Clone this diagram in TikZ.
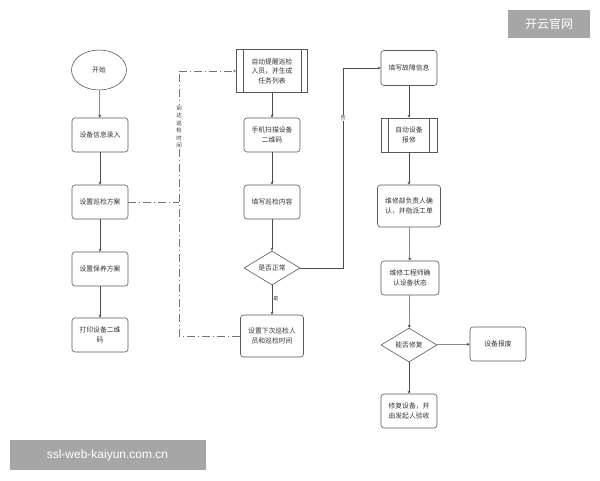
\documentclass[tikz,border=0pt]{standalone}
\usepackage{fontspec}
\setmainfont{Noto Sans CJK SC}
\newfontfamily\latinsans{Liberation Sans}
\XeTeXlinebreaklocale "zh"
\XeTeXlinebreakskip=0pt plus 1pt
\usetikzlibrary{shapes.geometric,arrows.meta}
\begin{document}
\begin{tikzpicture}[x=1pt,y=-1pt,
  every node/.style={font=\fontsize{6.8}{9.5}\selectfont, text=black!80, align=center, inner sep=1pt},
  proc/.style={draw=black!65, line width=0.6pt, rounded corners=3pt, minimum width=56pt, minimum height=34pt},
  subp/.style={draw=black!65, line width=0.6pt, minimum width=56pt, minimum height=34pt},
  dec/.style={draw=black!65, line width=0.6pt, diamond, aspect=1.65, minimum width=56pt, minimum height=34pt, inner sep=0pt},
  term/.style={draw=black!65, line width=0.6pt, ellipse, minimum width=55pt, minimum height=40pt},
  arr/.style={draw=black!70, line width=0.5pt, -{Stealth[length=3pt,width=3pt]}},
  dd/.style={draw=black!55, line width=0.6pt, dash pattern=on 8pt off 3pt on 1pt off 3pt},
  wm/.style={fill=black!35, text=white, inner sep=0pt}
]
\useasboundingbox (0,0) rectangle (600,480);
% column 1
\node[term] (start) at (99,70) {开始};
\node[proc] (c1) at (100,135) {设备信息录入};
\node[proc] (c2) at (100,202) {设置巡检方案};
\node[proc] (c3) at (100,269) {设置保养方案};
\node[proc] (c4) at (100,335) {打印设备二维\\码};
% column 2
\node[subp, minimum width=71pt, minimum height=43pt] (m1) at (272,71) {自动提醒巡检\\人员，并生成\\任务列表};
\draw[draw=black!65, line width=0.6pt] ([xshift=7pt]m1.north west) -- ([xshift=7pt]m1.south west)
  ([xshift=-7pt]m1.north east) -- ([xshift=-7pt]m1.south east);
\node[proc] (m2) at (272,135) {手机扫描设备\\二维码};
\node[proc] (m3) at (272,202) {填写巡检内容};
\node[dec] (m4) at (272,268) {是否正常};
\node[proc, minimum width=63pt, minimum height=42pt] (m5) at (272,336) {设置下次巡检人\\员和巡检时间};
% column 3
\node[proc, minimum height=35pt] (r1) at (409,68) {填写故障信息};
\node[subp] (r2) at (409,135) {自动设备\\报修};
\draw[draw=black!65, line width=0.6pt] ([xshift=8pt]r2.north west) -- ([xshift=8pt]r2.south west)
  ([xshift=-8pt]r2.north east) -- ([xshift=-8pt]r2.south east);
\node[proc, minimum width=63pt, minimum height=42pt] (r3) at (409,206) {维修部负责人确\\认，并指派工单};
\node[proc, minimum width=58pt] (r4) at (410,278) {维修工程师确\\认设备状态};
\node[dec] (r5) at (409,345) {能否修复};
\node[proc] (r6) at (498,344) {设备报废};
\node[proc] (r7) at (409,411) {修复设备，并\\由发起人验收};
% arrows
\draw[arr] (start) -- (c1);
\draw[arr] (c1) -- (c2);
\draw[arr] (c2) -- (c3);
\draw[arr] (c3) -- (c4);
\draw[arr] (m1) -- (m2);
\draw[arr] (m2) -- (m3);
\draw[arr] (m3) -- (m4);
\draw[arr] (m4) -- node[right=0pt, pos=0.45, font=\fontsize{5}{6}\selectfont] {是} (m5);
\draw[arr] (m4.east) -- (343,268) -- node[pos=0.75, fill=white, font=\fontsize{5}{6}\selectfont, inner sep=0.5pt] {否} (343,68) -- (r1.west);
\draw[arr] (r1) -- (r2);
\draw[arr] (r2) -- (r3);
\draw[arr] (r3) -- (r4);
\draw[arr] (r4) -- (r5);
\draw[arr] (r5) -- (r6);
\draw[arr] (r5) -- (r7);
% dash-dot loop
\coordinate (jt) at (179,71);
\coordinate (jm) at (179,202);
\coordinate (jb) at (179,336);
\draw[dd] (c2.east) -- (jm);
\draw[dd] (m5.west) -- (jb) -- (jt);
\draw[dd, -{Stealth[length=3pt,width=3pt]}] (jt) -- (m1.west);
\node[fill=white, font=\fontsize{5.5}{7.5}\selectfont, inner sep=0.5pt] at (179,127) {到\\达\\巡\\检\\时\\间};
% watermarks
\node[wm, minimum width=82pt, minimum height=28pt, font=\fontsize{12}{14}\selectfont] at (549,24) {开云官网};
\node[wm, minimum width=196pt, minimum height=30pt, font=\latinsans\fontsize{12}{14}\selectfont] at (107.5,455) {ssl-web-kaiyun.com.cn};
\end{tikzpicture}
\end{document}
